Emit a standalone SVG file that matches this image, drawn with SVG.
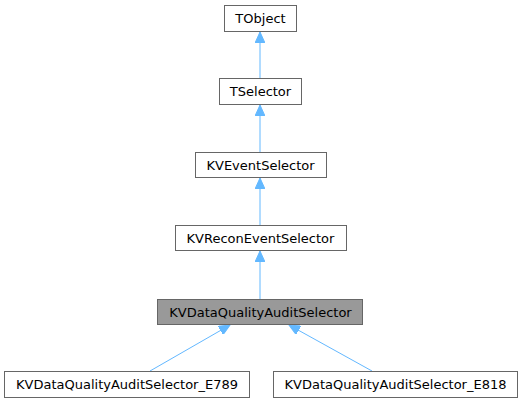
<svg xmlns="http://www.w3.org/2000/svg" width="523" height="403" viewBox="0 0 523 403">
<style>
.n rect{fill:#fff;stroke:#666;stroke-width:1}
.n.h rect{fill:#999;stroke:#666}
.n text{font-family:"DejaVu Sans",sans-serif;font-size:13px;fill:#000;text-anchor:middle}
.e line{stroke:#63b8ff;stroke-width:1}
</style>
<defs>
<marker id="a" markerWidth="12" markerHeight="10" refX="11" refY="5" orient="auto" markerUnits="userSpaceOnUse">
<path d="M0,0 L11,5 L0,10 Z" fill="#63b8ff" stroke="#63b8ff"/>
</marker>
</defs>
<g class="e">
<line x1="260" y1="78" x2="260" y2="32" marker-end="url(#a)"/>
<line x1="260" y1="152" x2="260" y2="105" marker-end="url(#a)"/>
<line x1="260" y1="225" x2="260" y2="178" marker-end="url(#a)"/>
<line x1="260" y1="299" x2="260" y2="251" marker-end="url(#a)"/>
<line x1="150" y1="371" x2="230" y2="325" marker-end="url(#a)"/>
<line x1="372" y1="371" x2="289" y2="325" marker-end="url(#a)"/>
</g>
<g id="TObject" class="n"><rect x="224.5" y="5.5" width="72" height="26"/><text x="260.5" y="23">TObject</text></g>
<g id="TSelector" class="n"><rect x="219.5" y="78.5" width="82" height="26"/><text x="260.5" y="96">TSelector</text></g>
<g id="KVEventSelector" class="n"><rect x="195.5" y="152.5" width="131" height="25"/><text x="260.5" y="169.5">KVEventSelector</text></g>
<g id="KVReconEventSelector" class="n"><rect x="175.5" y="225.5" width="171" height="25"/><text x="260.5" y="242.5">KVReconEventSelector</text></g>
<g id="KVDataQualityAuditSelector" class="n h"><rect x="157.5" y="299.5" width="205" height="25"/><text x="260.5" y="316.5">KVDataQualityAuditSelector</text></g>
<g id="KVDataQualityAuditSelector_E789" class="n"><rect x="4.5" y="371.5" width="245" height="26"/><text x="127" y="389">KVDataQualityAuditSelector_E789</text></g>
<g id="KVDataQualityAuditSelector_E818" class="n"><rect x="273.5" y="371.5" width="244" height="26"/><text x="395.5" y="389">KVDataQualityAuditSelector_E818</text></g>
</svg>
